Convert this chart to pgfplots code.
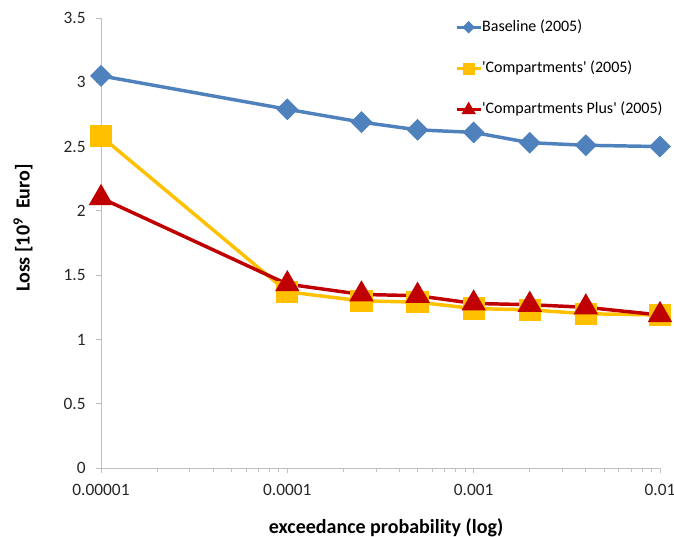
\documentclass[border=0pt]{standalone}
\usepackage{pgfplots}
\pgfplotsset{compat=1.18}
\usepackage{fontspec}
\setmainfont{Carlito}
\definecolor{cblue}{HTML}{4F81BD}
\definecolor{cyellow}{HTML}{FFC000}
\definecolor{cred}{HTML}{C00000}
\definecolor{axgray}{HTML}{BFBFBF}
\begin{document}
\begin{tikzpicture}
\begin{axis}[
  scale only axis,
  width=419.25pt, height=337.5pt,
  xmode=log,
  xmin=1e-5, xmax=1e-2,
  ymin=0, ymax=3.5,
  xtick={1e-5,1e-4,1e-3,1e-2},
  xticklabels={0.00001,0.0001,0.001,0.01},
  minor xtick={},
  ytick={0,0.5,1,1.5,2,2.5,3,3.5},
  yticklabels={0,0.5,1,1.5,2,2.5,3,3.5},
  axis x line*=bottom,
  axis y line*=left,
  axis line style={axgray, line width=0.6pt, -},
  tick style={axgray, line width=0.6pt},
  tick align=outside,
  major tick length=4pt,
  tick label style={font=\fontsize{13}{15}\selectfont, text=black!85},
  xticklabel style={yshift=-4.5pt},
  yticklabel style={xshift=-4pt},
  /pgf/number format/assume math mode=true,
  xlabel={\textbf{exceedance probability (log)}},
  ylabel={\textbf{Loss [10$^{\mathbf{9}}$\ \ Euro]}},
  label style={font=\fontsize{15}{17}\selectfont},
  xlabel style={at={(axis description cs:0.51,-0.1333)}, anchor=center},
  ylabel style={at={(axis description cs:-0.1395,0.533)}, anchor=center},
  legend style={draw=none, fill=none, at={(rel axis cs:0.6332,0.9978)}, anchor=north west,
    font=\fontsize{12}{14}\selectfont, row sep=19pt, inner sep=0pt,
    nodes={inner sep=0pt, text height=9pt, text depth=3pt},
    legend cell align=left},
  legend image code/.code={
    \draw[#1, line width=2.2pt] (0pt,0pt) -- (18pt,0pt);
    \draw[#1, only marks, every mark/.append style={scale=0.45}] plot coordinates {(9pt,0pt)};
  },
]
\addplot[cblue, line width=2.6pt, mark=square*, mark size=4.5pt, mark options={rotate=45, solid}]
coordinates {(1e-5,3.05) (1e-4,2.79) (2.5e-4,2.69) (5e-4,2.63) (1e-3,2.61) (2e-3,2.53) (4e-3,2.51) (1e-2,2.50)};
\addlegendentry{Baseline (2005)}
\addplot[cyellow, line width=2.6pt, mark=square*, mark size=7pt, mark options={solid}]
coordinates {(1e-5,2.58) (1e-4,1.37) (2.5e-4,1.30) (5e-4,1.29) (1e-3,1.24) (2e-3,1.23) (4e-3,1.20) (1e-2,1.19)};
\addlegendentry{\textquotesingle Compartments\textquotesingle\ (2005)}
\addplot[cred, line width=2.6pt, mark=triangle*, mark size=8pt, mark options={solid}]
coordinates {(1e-5,2.10) (1e-4,1.43) (2.5e-4,1.35) (5e-4,1.34) (1e-3,1.28) (2e-3,1.27) (4e-3,1.25) (1e-2,1.19)};
\addlegendentry{\textquotesingle Compartments Plus\textquotesingle\ (2005)}
\end{axis}
\pgfresetboundingbox
\path ([shift={(-75.75pt,-51.75pt)}]current axis.south west) rectangle ([shift={(10.5pt,13.5pt)}]current axis.north east);
\end{tikzpicture}
\end{document}
